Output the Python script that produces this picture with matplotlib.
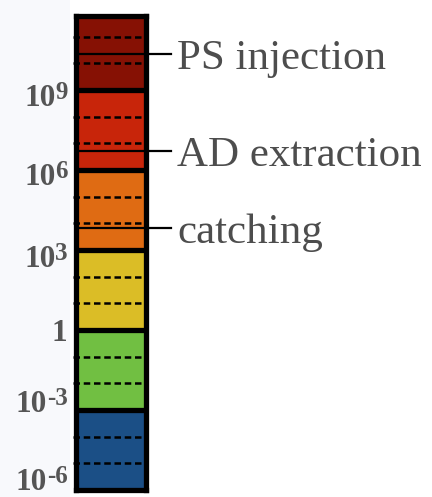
import matplotlib
matplotlib.use("Agg")
import matplotlib.pyplot as plt
from matplotlib.patches import Rectangle
import numpy as np

# ---- data ----
block_edges = [1e-6, 1e-3, 1e0, 1e3, 1e6, 1e9, 1e12]
block_colors = ["#1b4f86", "#71bf42", "#dbbd26", "#df6b13", "#c8250a", "#861104"]
minor_decades = [1e-5, 1e-4, 1e-2, 1e-1, 1e1, 1e2, 1e4, 1e5, 1e7, 1e8, 1e10, 1e11]
tick_values = [1e-6, 1e-3, 1e0, 1e3, 1e6, 1e9]
tick_bases = ["10", "10", "1", "10", "10", "10"]
tick_exps = ["-6", "-3", "", "3", "6", "9"]
marker_names = ["PS injection", "AD extraction", "catching"]
marker_values = [2.3e10, 5.3e6, 6.5e3]

# label baseline offsets (pixels below the tick value)
label_baseline_px = [0, 2, 11, 17, 15, 16]

W, H = 432, 497
fig = plt.figure(figsize=(W / 100, H / 100), dpi=100)
fig.patch.set_facecolor("white")
fig.patches.append(Rectangle((0, 0), 70 / W, 1, transform=fig.transFigure,
                             facecolor="#f8f9fc", edgecolor="none", zorder=-10))

ax = fig.add_axes([75.5 / W, 7 / H, 70 / W, 474.5 / H])
ax.set_yscale("log")
ax.set_xlim(0, 1)
ax.set_ylim(1e-6, 10 ** 11.8)

for lo, hi, c in zip(block_edges[:-1], block_edges[1:], block_colors):
    ax.bar(0.5, hi - lo, bottom=lo, width=1.0, color=c, edgecolor="none", zorder=1)

for v in minor_decades:
    ax.plot([-0.04, 1.0], [v, v], color="black", lw=1.8, ls=(0, (2.6, 1.5)),
            zorder=2, clip_on=False)

for v in block_edges[1:-1]:
    ax.axhline(v, color="black", lw=3.8, zorder=3)

for name, v in zip(marker_names, marker_values):
    ax.plot([0.0, 1.36], [v, v], color="black", lw=1.6, zorder=4, clip_on=False)
    ax.annotate(name, xy=(1.45, v), xycoords="data", xytext=(0, -15),
                textcoords="offset pixels", ha="left", va="baseline",
                fontsize=31, family="Liberation Serif", color="#4d4d4d",
                annotation_clip=False)

for s in ax.spines.values():
    s.set_linewidth(3.8)
    s.set_color("black")
    s.set_zorder(5)

ax.set_xticks([])
ax.set_yticks([])
ax.minorticks_off()
ax.yaxis.set_minor_locator(matplotlib.ticker.NullLocator())

renderer = fig.canvas.get_renderer()
lab_kw = dict(family="Liberation Serif", weight="bold", color="#555555",
              annotation_clip=False, textcoords="offset pixels", va="baseline",
              ha="right", xycoords="data")
for v, base, ex, off in zip(tick_values, tick_bases, tick_exps, label_baseline_px):
    x_right = -8
    if ex:
        t = ax.annotate(ex, xy=(0, v), xytext=(x_right, -off + 7),
                        fontsize=18, **lab_kw)
        w = t.get_window_extent(renderer).width
        x_right -= w - 0.5
    ax.annotate(base, xy=(0, v), xytext=(x_right, -off), fontsize=22.5, **lab_kw)

fig.savefig("out.png", dpi=100, facecolor="white")
